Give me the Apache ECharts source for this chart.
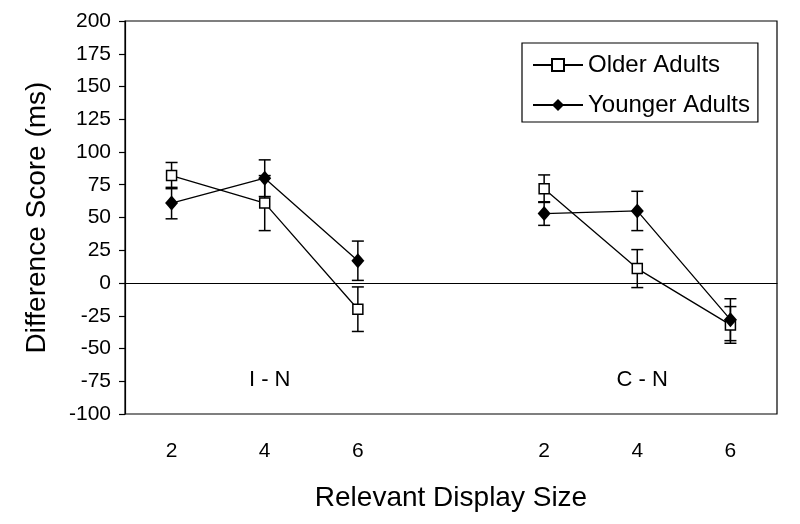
<!DOCTYPE html>
<html>
<head>
<meta charset="utf-8">
<script src="https://cdn.jsdelivr.net/npm/echarts@6/dist/echarts.min.js"></script>
<style>
html,body{margin:0;padding:0;background:#fff;}
#chart{width:800px;height:524px;}
</style>
</head>
<body>
<div id="chart"></div>
<script>
// Display sizes (blank slot separates the I - N and C - N groups)
const categories = ['2', '4', '6', '', '2', '4', '6'];
const olderMeans = [82, 61, -20, null, 72, 11, -32];
const olderErr   = [10, 21, 17, null, 10.5, 14.5, 14];
const youngerMeans = [61, 80, 17, null, 53, 55, -28];
const youngerErr   = [12, 14, 15, null, 9, 15, 16];
const groupLabels = ['I - N', 'C - N'];
const groupLabelAt = [1, 5];       // category index of each group label
const groupLabelValue = -74;       // y value of group labels
const yMin = -100, yMax = 200, yStep = 25;

const FONT = '"Liberation Sans", Arial, sans-serif';

function lineData(arr) { return arr.map(v => v === null ? '-' : v); }
function errData(means, errs) {
  const out = [];
  means.forEach((m, i) => { if (m !== null) out.push([i, m - errs[i], m + errs[i]]); });
  return out;
}
function renderErr(params, api) {
  const x = api.value(0);
  const lo = api.coord([x, api.value(1)]);
  const hi = api.coord([x, api.value(2)]);
  const hw = 6;
  const st = { stroke: '#000', lineWidth: 1.5 };
  return {
    type: 'group',
    children: [
      { type: 'line', shape: { x1: lo[0], y1: lo[1], x2: hi[0], y2: hi[1] }, style: st },
      { type: 'line', shape: { x1: lo[0] - hw, y1: lo[1], x2: lo[0] + hw, y2: lo[1] }, style: st },
      { type: 'line', shape: { x1: hi[0] - hw, y1: hi[1], x2: hi[0] + hw, y2: hi[1] }, style: st }
    ]
  };
}

const chart = echarts.init(document.getElementById('chart'), null, { renderer: 'canvas' });
chart.setOption({
  backgroundColor: '#fff',
  animation: false,
  textStyle: { fontFamily: FONT, color: '#000' },
  grid: { left: 125, right: 23, top: 21, bottom: 110, show: true, borderColor: '#000', borderWidth: 1.2, backgroundColor: 'transparent' },
  legend: {
    orient: 'vertical', left: 522, top: 43,
    borderColor: '#000', borderWidth: 1.2, padding: [10, 8, 5, 10],
    itemGap: 16, itemWidth: 50, itemHeight: 15,
    textStyle: { fontSize: 24, color: '#000', fontFamily: FONT },
    data: ['Older Adults', 'Younger Adults']
  },
  xAxis: {
    type: 'category', data: categories, boundaryGap: true,
    name: 'Relevant Display Size', nameLocation: 'middle', nameGap: 70,
    nameTextStyle: { fontSize: 28, color: '#000', fontFamily: FONT },
    axisLine: { lineStyle: { color: '#000', width: 1.2 } },
    axisTick: { alignWithLabel: true, length: 5, lineStyle: { color: '#000', width: 1.2 },
      interval: (i, v) => v !== '' },
    axisLabel: { fontSize: 21, color: '#000', margin: 27, interval: 0, fontFamily: FONT },
    splitLine: { show: false }
  },
  yAxis: {
    type: 'value', min: yMin, max: yMax, interval: yStep,
    name: 'Difference Score (ms)', nameLocation: 'middle', nameGap: 74, nameRotate: 90,
    nameTextStyle: { fontSize: 28, color: '#000', fontFamily: FONT },
    axisLine: { show: true, lineStyle: { color: '#000', width: 1.2 } },
    axisTick: { show: true, length: 6, lineStyle: { color: '#000', width: 1.2 } },
    axisLabel: { fontSize: 21, color: '#000', margin: 14, fontFamily: FONT },
    splitLine: { show: false }
  },
  series: [
    {
      type: 'custom', name: 'olderErr', renderItem: renderErr, z: 1,
      data: errData(olderMeans, olderErr), encode: { x: 0, y: [1, 2] }, silent: true
    },
    {
      type: 'custom', name: 'youngerErr', renderItem: renderErr, z: 1,
      data: errData(youngerMeans, youngerErr), encode: { x: 0, y: [1, 2] }, silent: true
    },
    {
      type: 'line', name: 'Older Adults', data: lineData(olderMeans), z: 3,
      symbol: 'rect', symbolSize: 10, showAllSymbol: true, connectNulls: false,
      lineStyle: { color: '#000', width: 1.3 },
      itemStyle: { color: '#fff', borderColor: '#000', borderWidth: 1.5 },
      markLine: {
        silent: true, symbol: ['none', 'none'], label: { show: false },
        lineStyle: { color: '#000', width: 1.2, type: 'solid' },
        data: [{ yAxis: 0 }]
      },
      markPoint: {
        silent: true, symbol: 'circle', symbolSize: 0,
        label: { show: true, position: 'inside', offset: [5, 0], fontSize: 22, color: '#000', fontFamily: FONT,
          formatter: p => p.name },
        data: groupLabels.map((t, k) => ({ name: t, coord: [groupLabelAt[k], groupLabelValue] }))
      }
    },
    {
      type: 'line', name: 'Younger Adults', data: lineData(youngerMeans), z: 4,
      symbol: 'diamond', symbolSize: [13, 15], showAllSymbol: true, connectNulls: false,
      lineStyle: { color: '#000', width: 1.3 },
      itemStyle: { color: '#000', borderColor: '#000', borderWidth: 0 }
    }
  ]
});
</script>
</body>
</html>
